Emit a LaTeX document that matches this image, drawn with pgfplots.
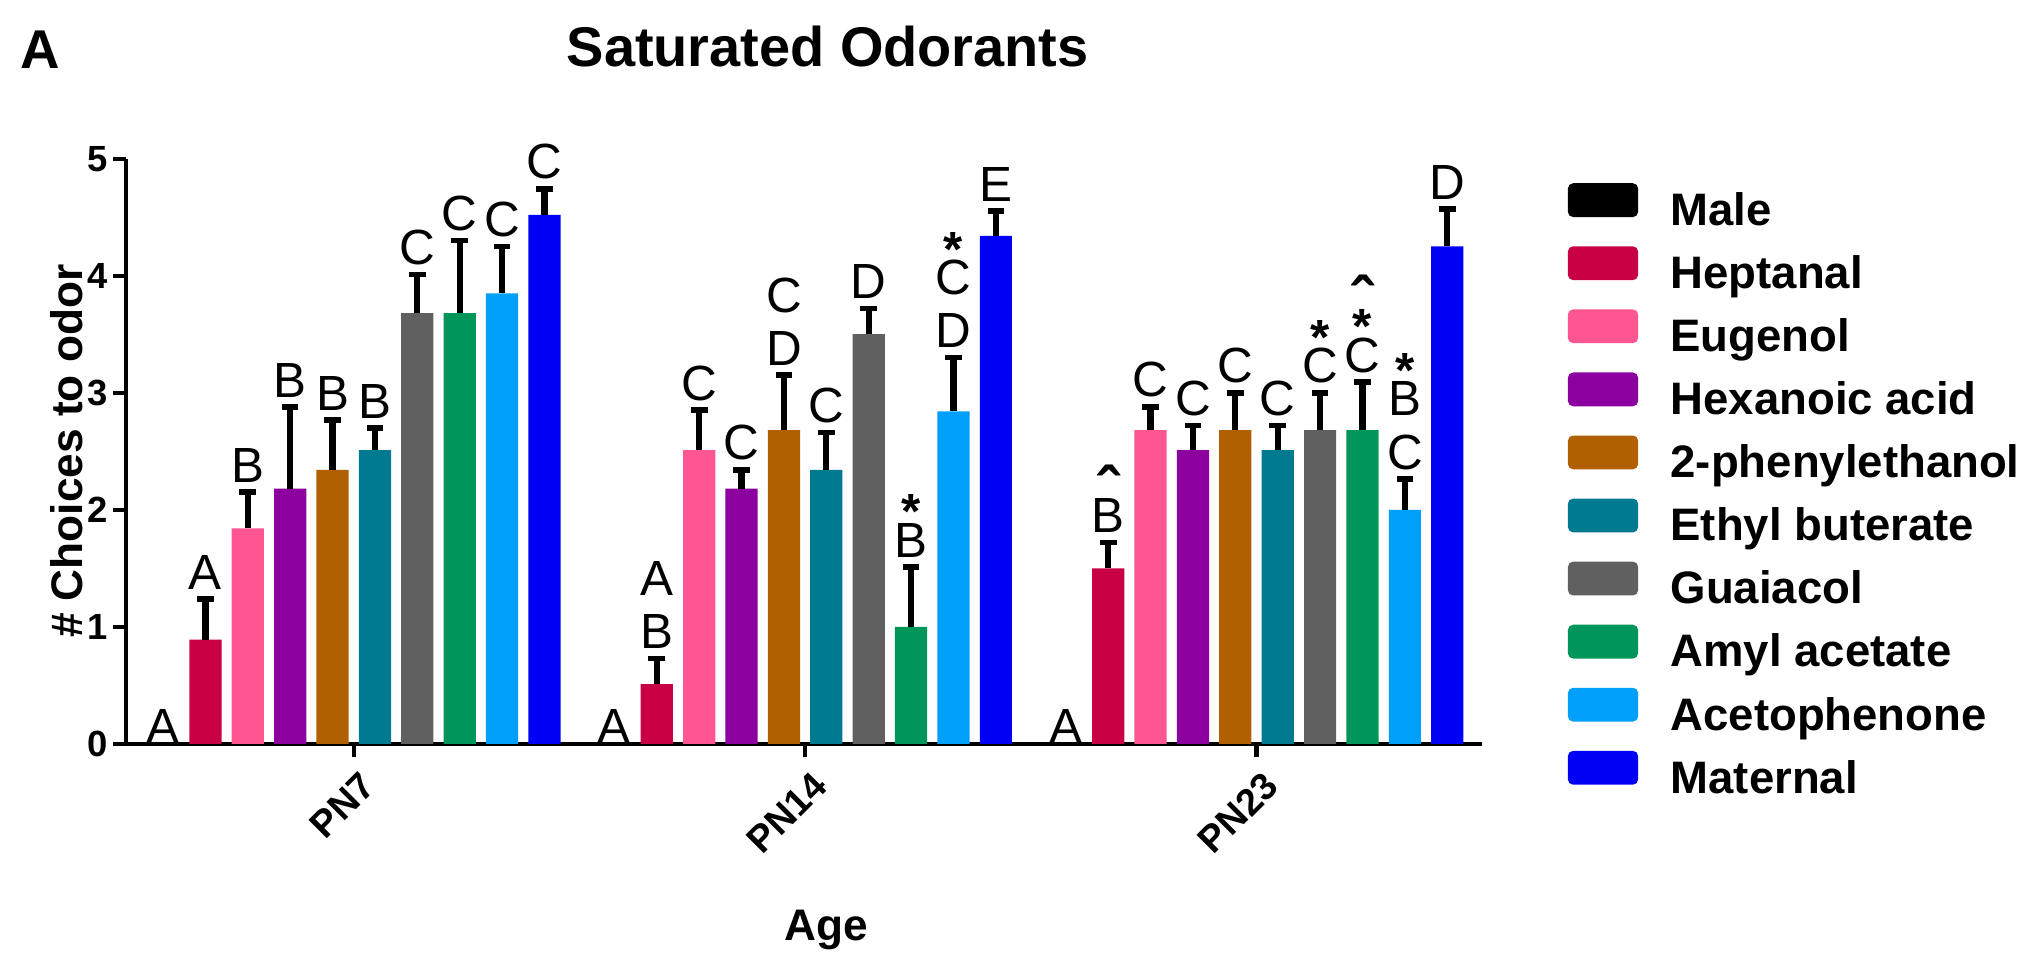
\documentclass[border=0pt]{standalone}
\usepackage{pgfplots}
\usepackage{pgfplotstable}
\pgfplotsset{compat=1.18}
\usepackage{fontspec}
\setmainfont{Liberation Sans}

\definecolor{cMale}{RGB}{0,0,0}
\definecolor{cHep}{RGB}{200,0,68}
\definecolor{cEug}{RGB}{255,85,145}
\definecolor{cHex}{RGB}{140,0,160}
\definecolor{cPhe}{RGB}{176,96,0}
\definecolor{cEth}{RGB}{0,122,145}
\definecolor{cGua}{RGB}{96,96,96}
\definecolor{cAmy}{RGB}{0,150,90}
\definecolor{cAce}{RGB}{0,160,250}
\definecolor{cMat}{RGB}{0,0,245}

% x = group*10.65 + position in group; e = upper error
\pgfplotstableread{
x y e
0 0 0
10.65 0 0
21.3 0 0
}\male
\pgfplotstableread{
x y e
1 0.89 0.35
11.65 0.51 0.22
22.3 1.50 0.22
}\hep
\pgfplotstableread{
x y e
2 1.84 0.31
12.65 2.51 0.34
23.3 2.68 0.20
}\eug
\pgfplotstableread{
x y e
3 2.18 0.70
13.65 2.18 0.16
24.3 2.51 0.21
}\hex
\pgfplotstableread{
x y e
4 2.34 0.43
14.65 2.68 0.47
25.3 2.68 0.32
}\phe
\pgfplotstableread{
x y e
5 2.51 0.19
15.65 2.34 0.32
26.3 2.51 0.21
}\eth
\pgfplotstableread{
x y e
6 3.68 0.33
16.65 3.50 0.22
27.3 2.68 0.32
}\gua
\pgfplotstableread{
x y e
7 3.68 0.62
17.65 1.00 0.51
28.3 2.68 0.41
}\amy
\pgfplotstableread{
x y e
8 3.85 0.40
18.65 2.84 0.46
29.3 2.00 0.26
}\ace
\pgfplotstableread{
x y e
9 4.52 0.22
19.65 4.34 0.21
30.3 4.25 0.32
}\mat

\newcommand\st{\textbf{*}\\[-9.5pt]}
\newcommand\ca{{\fontsize{25}{25}\selectfont\bfseries ˆ}\\[-13pt]}
\tikzset{lab/.style={anchor=south, align=center, inner sep=0pt, yshift=3.5pt, font=\fontsize{19}{20.5}\selectfont}}

\begin{document}
\begin{tikzpicture}
\begin{axis}[
  scale only axis, width=521.5pt, height=225pt,
  ymin=0, ymax=5, xmin=-0.87, xmax=31.13,
  clip=false,
  axis x line*=bottom, axis y line*=left,
  axis line style={line width=1.6pt},
  ytick={0,1,2,3,4,5},
  xtick={4.5,15.15,25.8}, xticklabels={PN7,PN14,PN23},
  tick align=outside, major tick length=5pt,
  tick style={line width=1.6pt, black},
  /pgf/number format/assume math mode=true,
  yticklabel style={font=\bfseries\fontsize{14}{14}\selectfont, inner sep=2pt},
  xticklabel style={font=\bfseries\fontsize{14.5}{14.5}\selectfont, rotate=45, anchor=north east, inner sep=2pt, yshift=-3pt},
  ylabel={\# Choices to odor},
  every axis y label/.style={at={(axis description cs:0,0.5)}, xshift=-23pt, rotate=90, anchor=center, font=\bfseries\fontsize{17}{17}\selectfont},
  xlabel={Age},
  every axis x label/.style={at={(axis description cs:0.516,0)}, yshift=-71.5pt, anchor=center, font=\bfseries\fontsize{17}{17}\selectfont},
  error bars/y dir=plus,
  error bars/y explicit,
  error bars/error mark=-,
  error bars/error bar style={line width=2.4pt, draw=black, solid},
  error bars/error mark options={rotate=90, line width=2.2pt, mark size=3.2pt, draw=black, solid},
  bx/.style={ybar, bar width=0.76, bar shift=0pt, fill=#1, draw=none,
    legend image code/.code={\fill[fill=#1, rounded corners=2pt] (0pt,-1pt) rectangle (27pt,12pt);}},
  legend style={draw=none, fill=none, inner sep=0pt, outer sep=0pt,
    at={(rel axis cs:1.063,0.958)}, anchor=north west, row sep=4pt,
    nodes={font=\bfseries\fontsize{17.5}{17.5}\selectfont, text height=12.5pt, text depth=4pt, inner ysep=0pt, inner xsep=0pt},
    /tikz/every odd column/.append style={column sep=12.5pt}},
  legend cell align=left,
]
\addplot[bx=cMale] table[x=x, y=y] \male;
\addplot[bx=cHep] table[x=x, y=y, y error=e] \hep;
\addplot[bx=cEug] table[x=x, y=y, y error=e] \eug;
\addplot[bx=cHex] table[x=x, y=y, y error=e] \hex;
\addplot[bx=cPhe] table[x=x, y=y, y error=e] \phe;
\addplot[bx=cEth] table[x=x, y=y, y error=e] \eth;
\addplot[bx=cGua] table[x=x, y=y, y error=e] \gua;
\addplot[bx=cAmy] table[x=x, y=y, y error=e] \amy;
\addplot[bx=cAce] table[x=x, y=y, y error=e] \ace;
\addplot[bx=cMat] table[x=x, y=y, y error=e] \mat;
\legend{Male,Heptanal,Eugenol,Hexanoic acid,2-phenylethanol,Ethyl buterate,Guaiacol,Amyl acetate,Acetophenone,Maternal}

% significance letters
\node[lab, yshift=-3.5pt] at (axis cs:0,0) {A};
\node[lab] at (axis cs:1,1.24) {A};
\node[lab] at (axis cs:2,2.15) {B};
\node[lab] at (axis cs:3,2.88) {B};
\node[lab] at (axis cs:4,2.77) {B};
\node[lab] at (axis cs:5,2.70) {B};
\node[lab] at (axis cs:6,4.01) {C};
\node[lab] at (axis cs:7,4.30) {C};
\node[lab] at (axis cs:8,4.25) {C};
\node[lab] at (axis cs:9,4.74) {C};

\node[lab, yshift=-3.5pt] at (axis cs:10.65,0) {A};
\node[lab] at (axis cs:11.65,0.73) {A\\B};
\node[lab] at (axis cs:12.65,2.85) {C};
\node[lab] at (axis cs:13.65,2.34) {C};
\node[lab] at (axis cs:14.65,3.15) {C\\D};
\node[lab] at (axis cs:15.65,2.66) {C};
\node[lab] at (axis cs:16.65,3.72) {D};
\node[lab] at (axis cs:17.65,1.51) {\st B};
\node[lab] at (axis cs:18.65,3.30) {\st C\\D};
\node[lab] at (axis cs:19.65,4.55) {E};

\node[lab, yshift=-3.5pt] at (axis cs:21.3,0) {A};
\node[lab] at (axis cs:22.3,1.72) {\ca B};
\node[lab] at (axis cs:23.3,2.88) {C};
\node[lab] at (axis cs:24.3,2.72) {C};
\node[lab] at (axis cs:25.3,3.00) {C};
\node[lab] at (axis cs:26.3,2.72) {C};
\node[lab] at (axis cs:27.3,3.00) {\st C};
\node[lab] at (axis cs:28.3,3.09) {\ca\st C};
\node[lab] at (axis cs:29.3,2.26) {\st B\\C};
\node[lab] at (axis cs:30.3,4.57) {D};
\end{axis}

\node[font=\bfseries\fontsize{21.5}{21.5}\selectfont] at (269.75pt,268pt) {Saturated Odorants};
\node[font=\bfseries\fontsize{21}{21}\selectfont] at (-33pt,267pt) {A};

\pgfresetboundingbox
\path (-48.5pt,-82pt) rectangle (735.5pt,286pt);
\end{tikzpicture}
\end{document}
